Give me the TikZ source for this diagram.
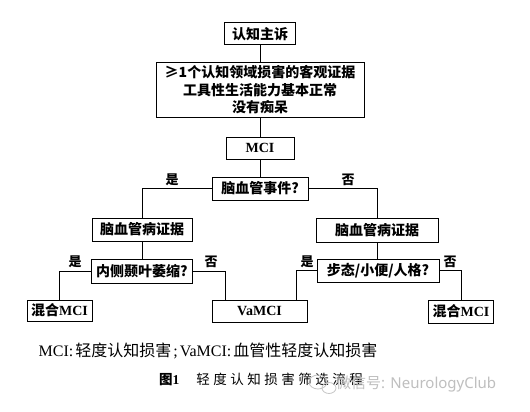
\documentclass[tikz,border=0pt]{standalone}
\usepackage{fontspec}
\setmainfont{Liberation Serif}
\newfontfamily\cjk{Noto Sans CJK SC}
\newfontfamily\wmfont{Noto Sans}
\usetikzlibrary{calc}
\newcommand\lat[1]{{\rmfamily\bfseries #1}}
\begin{document}
\begin{tikzpicture}[x=1pt,y=-1pt,
  box/.style={draw, line width=1pt, inner sep=0pt, minimum height=22pt,
    font=\fontsize{14}{17.5}\selectfont\bfseries\cjk},
  lab/.style={font=\fontsize{13}{13}\selectfont\bfseries\cjk, inner sep=0pt},
  conn/.style={line width=1pt}]
\useasboundingbox (0,0) rectangle (530,412);
\fill[white] (0,0) rectangle (530,412);

\node[box, minimum width=71pt] (n1) at (260,34) {认知主诉};
\node[box, minimum width=208pt, minimum height=54pt, align=center] (n2) at (260,90)
  {≥1个认知领域损害的客观证据\\工具性生活能力基本正常\\没有痴呆};
\node[box, minimum width=68pt] (n3) at (260,148) {\lat{MCI}};
\node[box, minimum width=96pt, minimum height=23pt] (n4) at (260,188.5) {脑血管事件?};
\node[box, minimum width=100pt, minimum height=23pt] (n5) at (142,229.5) {脑血管病证据};
\node[box, minimum width=122pt, minimum height=24pt] (n6) at (377,230) {脑血管病证据};
\node[box, minimum width=101pt, minimum height=24pt] (n7) at (142,271) {内侧颞叶萎缩?};
\node[box, minimum width=122pt, minimum height=23pt] (n10) at (378,270.5) {步态/小便/人格?};
\node[box, minimum width=65pt, minimum height=21pt] (n8) at (59.5,310.5) {混合\lat{MCI}};
\node[box, minimum width=95pt] (n9) at (259.5,311) {\lat{VaMCI}};
\node[box, minimum width=65pt, minimum height=23pt] (n11) at (461,311.5) {混合\lat{MCI}};

\draw[conn] (n1) -- (n2);
\draw[conn] (n2) -- (n3);
\draw[conn] (n3) -- (n4);
\draw[conn] (n4.west) -| (n5.north);
\draw[conn] (n4.east) -| (n6.north);
\draw[conn] (n5) -- (n7);
\draw[conn] (n6.south) -- (n6.south |- n10.north);
\draw[conn] (n7.west) -| (n8.north);
\draw[conn] (n7.east) -| ($(n9.north west)!0.15!(n9.north east)$);
\draw[conn] (n10.west) -| ($(n9.north west)!0.89!(n9.north east)$);
\draw[conn] (n10.east) -| (n11.north);

\node[lab] (y1) at (172,180) {是};
\node[lab] (f1) at (348,180) {否};
\node[lab] (y2) at (75,262) {是};
\node[lab] (f2) at (211,262) {否};
\node[lab] (y3) at (307,262) {是};
\node[lab] (f3) at (450,262) {否};

\node[font=\fontsize{16}{16}\selectfont, inner sep=0pt] (cap1) at (208,351)
  {MCI:\hspace{2pt}{\cjk 轻度认知损害}\hspace{2pt};\hspace{2pt}VaMCI:\hspace{2pt}{\cjk 血管性轻度认知损害}};
\node[font=\fontsize{13.5}{13.5}\selectfont, inner sep=0pt] (cap2) at (261,379)
  {{\cjk\bfseries 图}\textbf{1}\hspace{17pt}{\cjk 轻\hspace{3.5pt}度\hspace{3.5pt}认\hspace{3.5pt}知\hspace{3.5pt}损\hspace{3.5pt}害\hspace{3.5pt}筛\hspace{3.5pt}选\hspace{3.5pt}流\hspace{3.5pt}程}};

\begin{scope}[gray!45, line width=0.8pt]
  \draw (318,382) ellipse [x radius=9pt, y radius=7pt];
  \draw (329,388) ellipse [x radius=7pt, y radius=5.5pt];
\end{scope}
\node[text=gray!50, font=\fontsize{15}{15}\selectfont\wmfont, inner sep=0pt, anchor=west] (wm) at (336,384)
  {{\cjk 微信号}: NeurologyClub};
\end{tikzpicture}
\end{document}
